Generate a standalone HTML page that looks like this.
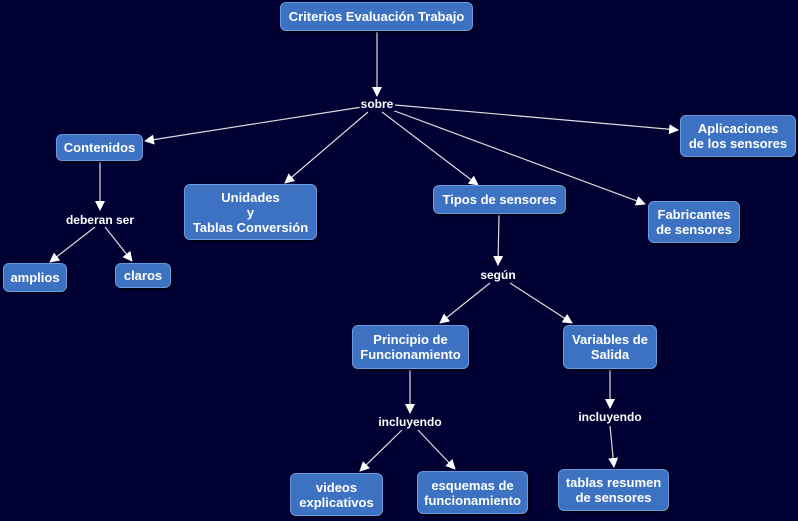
<!DOCTYPE html><html><head><meta charset="utf-8"><style>
body{margin:0;width:798px;height:521px;background:#000033;overflow:hidden;position:relative;font-family:"Liberation Sans",sans-serif}
.n{position:absolute;background:#3d72c2;border:1.5px solid #6a9be0;border-radius:6px;color:#fff;font-weight:bold;font-size:13px;display:flex;align-items:center;justify-content:center;text-align:center;line-height:15px;box-sizing:border-box;box-shadow:1px 1px 2px #000}
.l{position:absolute;color:#fff;font-weight:bold;font-size:12px;transform:translate(-50%,-50%);white-space:nowrap;background:#000033;padding:0 1px}
svg{position:absolute;left:0;top:0}
</style></head><body>
<svg width="798" height="521"><defs><marker id="a" markerWidth="10" markerHeight="10" refX="9" refY="5" orient="auto" markerUnits="userSpaceOnUse"><path d="M0,0L10,5L0,10z" fill="#fff"/></marker></defs>
<g stroke="#ddd" stroke-width="1.2" marker-end="url(#a)">
<line x1="377" y1="32" x2="377" y2="96"/>
<line x1="362" y1="107" x2="145" y2="141"/>
<line x1="368" y1="112" x2="285" y2="183"/>
<line x1="382" y1="112" x2="478" y2="185"/>
<line x1="392" y1="110" x2="645" y2="204"/>
<line x1="395" y1="105" x2="678" y2="130"/>
<line x1="100" y1="162" x2="100" y2="210"/>
<line x1="95" y1="227" x2="50" y2="262"/>
<line x1="105" y1="227" x2="132" y2="261"/>
<line x1="499" y1="215" x2="498" y2="265"/>
<line x1="490" y1="283" x2="440" y2="323"/>
<line x1="510" y1="283" x2="572" y2="323"/>
<line x1="410" y1="370" x2="410" y2="413"/>
<line x1="402" y1="430" x2="360" y2="471"/>
<line x1="418" y1="430" x2="455" y2="469"/>
<line x1="610" y1="370" x2="610" y2="408"/>
<line x1="610" y1="426" x2="614" y2="467"/>
</g></svg>
<div class="n" style="left:280px;top:2px;width:193px;height:29px">Criterios Evaluación Trabajo</div>
<div class="n" style="left:56px;top:134px;width:87px;height:27px">Contenidos</div>
<div class="n" style="left:184px;top:184px;width:133px;height:56px">Unidades<br>y<br>Tablas Conversión</div>
<div class="n" style="left:433px;top:185px;width:133px;height:29px">Tipos de sensores</div>
<div class="n" style="left:680px;top:115px;width:116px;height:42px">Aplicaciones<br>de los sensores</div>
<div class="n" style="left:648px;top:201px;width:92px;height:42px">Fabricantes<br>de sensores</div>
<div class="n" style="left:3px;top:263px;width:64px;height:29px">amplios</div>
<div class="n" style="left:115px;top:263px;width:56px;height:25px">claros</div>
<div class="n" style="left:352px;top:325px;width:117px;height:44px">Principio de<br>Funcionamiento</div>
<div class="n" style="left:563px;top:325px;width:94px;height:44px">Variables de<br>Salida</div>
<div class="n" style="left:290px;top:473px;width:93px;height:43px">videos<br>explicativos</div>
<div class="n" style="left:417px;top:471px;width:111px;height:43px">esquemas de<br>funcionamiento</div>
<div class="n" style="left:558px;top:469px;width:111px;height:42px">tablas resumen<br>de sensores</div>
<div class="l" style="left:377px;top:104px">sobre</div>
<div class="l" style="left:100px;top:220px">deberan ser</div>
<div class="l" style="left:498px;top:275px">según</div>
<div class="l" style="left:410px;top:422px">incluyendo</div>
<div class="l" style="left:610px;top:417px">incluyendo</div>
</body></html>
